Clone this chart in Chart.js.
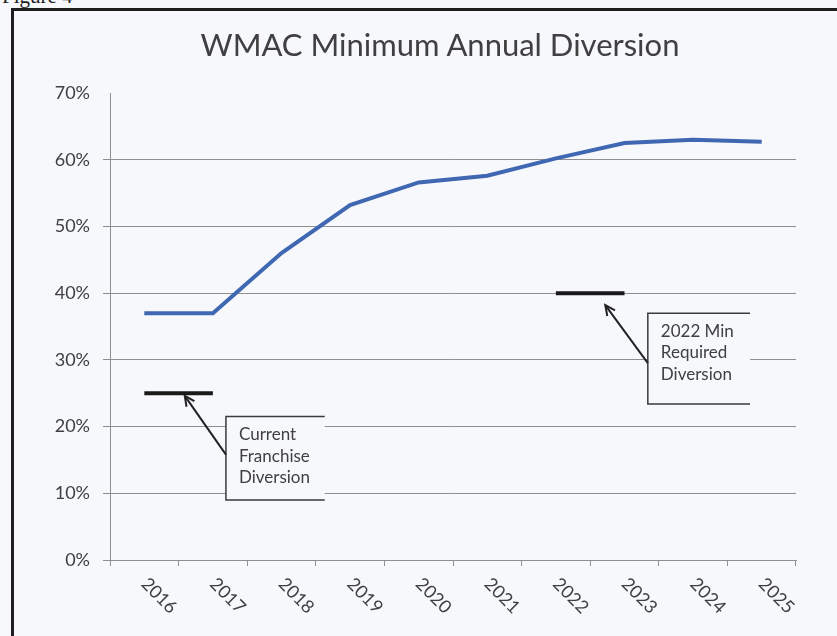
<!DOCTYPE html>
<html>
<head>
<meta charset="utf-8">
<title>WMAC Minimum Annual Diversion</title>
<script src="https://cdn.jsdelivr.net/npm/chart.js@4.4.1/dist/chart.umd.min.js"></script>
<style>
  html, body { margin: 0; padding: 0; width: 837px; height: 636px; overflow: hidden; background: #f6f8fb; }
  #figure-label { position: absolute; left: 2px; top: -16px; font-family: "Liberation Serif", serif; font-size: 21px; color: #222; }
  #frame { position: absolute; left: 11px; top: 8px; width: 900px; height: 700px; border-left: 3px solid #1e1e1e; border-top: 3px solid #1e1e1e; }
  #chart { position: absolute; left: 0; top: 0; }
  /* the title is centred on the whole chart object, which runs past the right edge of the page */
  #chart-title { position: absolute; left: 0; top: 26px; width: 880px; text-align: center;
                 font-family: Lato, sans-serif; font-size: 31px; line-height: 37px; color: #404040; }
</style>
</head>
<body>
<div id="figure-label">Figure 4</div>
<div id="frame"></div>
<canvas id="chart" width="880" height="636"></canvas>
<div id="chart-title">WMAC Minimum Annual Diversion</div>
<script>
const years = ['2016', '2017', '2018', '2019', '2020', '2021', '2022', '2023', '2024', '2025'];
const wmacMinimum = [37, 37, 46, 53.2, 56.6, 57.6, 60.2, 62.5, 63, 62.7];
const currentFranchise = [25, 25, null, null, null, null, null, null, null, null];
const required2022 = [null, null, null, null, null, null, 40, 40, null, null];
const yTicks = [0, 10, 20, 30, 40, 50, 60, 70];

const bg = '#f6f8fb';
const textColor = '#404040';
const gridColor = '#8f8f8f';

// callout boxes: box = [left cat, right cat, top %, bottom %], tail on the box's left edge, tip = [cat, %]
const calloutLayout = [
    { lines: ['Current', 'Franchise', 'Diversion'], box: [1.19, 2.63, 21.5, 9.0], tail: 15.8, tip: [0.59, 24.6] },
    { lines: ['2022 Min', 'Required', 'Diversion'], box: [7.34, 8.83, 37.0, 23.4], tail: 29.5, tip: [6.72, 38.2] }
];

const calloutPlugin = {
    id: 'callouts',
    afterDatasetsDraw(chart) {
        const { ctx, scales: { x, y } } = chart;
        ctx.save();
        calloutLayout.forEach(c => {
            const l = x.getPixelForValue(c.box[0]);
            const r = x.getPixelForValue(c.box[1]);
            const t = y.getPixelForValue(c.box[2]);
            const b = y.getPixelForValue(c.box[3]);
            ctx.fillStyle = bg;
            ctx.fillRect(l, t, r - l, b - t);
            ctx.strokeStyle = '#3a3a3a';
            ctx.lineWidth = 1.5;
            ctx.beginPath();
            ctx.moveTo(r, t);
            ctx.lineTo(l, t);
            ctx.lineTo(l, b);
            ctx.lineTo(r, b);
            ctx.stroke();

            ctx.fillStyle = textColor;
            ctx.font = '17px Lato';
            ctx.textAlign = 'left';
            ctx.textBaseline = 'middle';
            c.lines.forEach((s, i) => ctx.fillText(s, l + 13, t + 18 + i * 21.5));

            const ax = l, ay = y.getPixelForValue(c.tail);
            const tx = x.getPixelForValue(c.tip[0]), ty = y.getPixelForValue(c.tip[1]);
            ctx.strokeStyle = '#222';
            ctx.lineWidth = 2;
            ctx.beginPath();
            ctx.moveTo(ax, ay);
            ctx.lineTo(tx, ty);
            ctx.stroke();
            const ang = Math.atan2(ty - ay, tx - ax);
            ctx.beginPath();
            ctx.moveTo(tx - 11 * Math.cos(ang - 0.45), ty - 11 * Math.sin(ang - 0.45));
            ctx.lineTo(tx, ty);
            ctx.lineTo(tx - 11 * Math.cos(ang + 0.45), ty - 11 * Math.sin(ang + 0.45));
            ctx.stroke();
        });
        ctx.restore();
    }
};

// year labels slant down to the right, which the category axis can't do by itself
const slantedYears = {
    id: 'slantedYears',
    afterDraw(chart) {
        const { ctx, scales: { x } } = chart;
        ctx.save();
        ctx.font = '18px Lato';
        ctx.fillStyle = textColor;
        ctx.textAlign = 'left';
        ctx.textBaseline = 'middle';
        years.forEach((yr, i) => {
            ctx.save();
            ctx.translate(x.getPixelForValue(i), x.top + 21);
            ctx.rotate(Math.PI / 4);
            ctx.fillText(yr, 0, 0);
            ctx.restore();
        });
        ctx.restore();
    }
};

Chart.defaults.font.family = 'Lato';
Chart.defaults.color = textColor;

new Chart(document.getElementById('chart').getContext('2d'), {
    type: 'line',
    data: {
        labels: years,
        datasets: [
            {
                label: 'WMAC Minimum',
                data: wmacMinimum,
                borderColor: '#4068b2',
                borderWidth: 4,
                pointRadius: 0,
                tension: 0,
                fill: false
            },
            {
                label: 'Current Franchise Diversion',
                data: currentFranchise,
                borderColor: '#1a1a1a',
                borderWidth: 4,
                pointRadius: 0,
                fill: false
            },
            {
                label: '2022 Min Required Diversion',
                data: required2022,
                borderColor: '#1a1a1a',
                borderWidth: 4,
                pointRadius: 0,
                fill: false
            }
        ]
    },
    options: {
        responsive: false,
        animation: false,
        events: [],
        layout: { padding: { left: 0, right: 84, top: 93, bottom: 0 } },
        plugins: {
            legend: { display: false },
            tooltip: { enabled: false },
            title: { display: false }
        },
        scales: {
            x: {
                type: 'category',
                offset: true,
                grid: { offset: true, drawOnChartArea: false, drawTicks: true, tickLength: 6, color: gridColor },
                border: { color: gridColor },
                ticks: { display: false },
                afterFit: s => { s.height = 76; }
            },
            y: {
                min: 0,
                max: 70,
                afterBuildTicks: s => { s.ticks = yTicks.map(v => ({ value: v })); },
                grid: {
                    color: c => c.tick && c.tick.value === 70 ? 'transparent' : gridColor,
                    tickLength: 7
                },
                border: { color: gridColor },
                ticks: {
                    padding: 13,
                    font: { size: 18 },
                    color: textColor,
                    callback: v => v + '%'
                },
                afterFit: s => { s.width = 110; }
            }
        }
    },
    plugins: [calloutPlugin, slantedYears]
});
</script>
</body>
</html>
